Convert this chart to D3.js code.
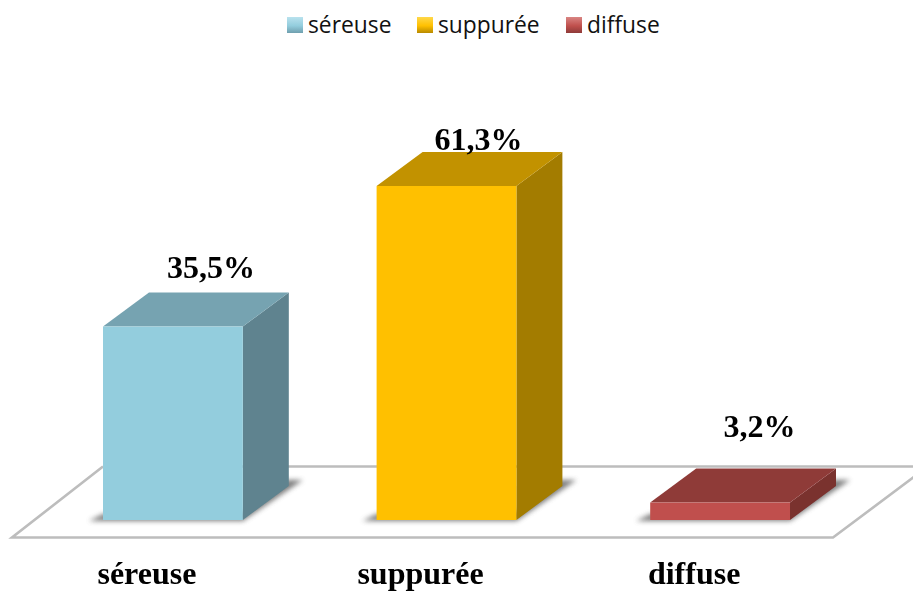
<!DOCTYPE html>
<html><head><meta charset="utf-8">
<script src="https://cdn.jsdelivr.net/npm/d3@7"></script>
<style>html,body{margin:0;padding:0;background:#fff}svg{display:block}</style>
</head><body><svg id="c" width="913" height="594"></svg>
<script>
const categories = ["séreuse", "suppurée", "diffuse"];
const values = [35.5, 61.3, 3.2];
const valueLabels = ["35,5%", "61,3%", "3,2%"];
const frontColors = ["#93cddd", "#ffc000", "#c0504d"];
const topColors = ["#76a3b1", "#c29200", "#8f3b39"];
const sideColors = ["#5f838f", "#a37c00", "#7a302e"];
const legendLight = ["#b9e2ee", "#ffd84a", "#d98583"];
const legendDark = ["#6f9fae", "#b88a00", "#8f3b39"];

const W = 913, H = 594, DX = 46, DY = 34;
const svg = d3.select("#c");
const defs = svg.append("defs");
const mkFilter = (id, sd) => defs.append("filter").attr("id", id).attr("filterUnits", "userSpaceOnUse")
  .attr("x", 0).attr("y", 0).attr("width", W).attr("height", H)
  .append("feGaussianBlur").attr("stdDeviation", sd);
mkFilter("soft", 0.7);
mkFilter("text", 0.35);
mkFilter("shadow", 2.8);
categories.forEach((c, i) => {
  const g = defs.append("linearGradient").attr("id", "lg" + i).attr("x1", 0).attr("y1", 0).attr("x2", 0).attr("y2", 1);
  g.append("stop").attr("offset", "0%").attr("stop-color", legendLight[i]);
  g.append("stop").attr("offset", "55%").attr("stop-color", frontColors[i]);
  g.append("stop").attr("offset", "100%").attr("stop-color", legendDark[i]);
});

const x = d3.scaleBand().domain(categories).range([103, 790]).paddingInner(0.489).paddingOuter(0);
const y = d3.scaleLinear().domain([0, 61.3]).range([520, 186]);
const poly = p => "M" + p.map(q => q.join(",")).join("L") + "Z";

// floor
const floorY0 = 537.5, floorY1 = 466.5;
svg.append("path")
  .attr("d", `M103,${floorY1}L12,${floorY0}H833L928,${floorY1}`)
  .attr("fill", "#fff").attr("stroke", "#bdbdbd").attr("stroke-width", 2.6).attr("filter", "url(#soft)");
svg.append("path")
  .attr("d", `M103,${floorY1}H${W + 10}`)
  .attr("fill", "none").attr("stroke", "#bdbdbd").attr("stroke-width", 2.6).attr("filter", "url(#soft)");

// bars with floor shadows
const marks = svg.append("g");
categories.forEach((c, i) => {
  const x0 = x(c), x1 = x0 + x.bandwidth(), yb = y(0), yt = y(values[i]);
  const g = marks.append("g");
  g.append("path").attr("filter", "url(#shadow)").attr("fill", "#5e5e5e").attr("opacity", 0.8)
    .attr("d", poly([[x0 - 14, yb + 1], [x1, yb + 1], [x1 + 60, yb - 40], [x1 + 40, yb - 40], [x1, yb - 8], [x0, yb - 6]]));
  g.append("path").attr("fill", sideColors[i]).attr("filter", "url(#soft)")
    .attr("d", poly([[x1, yb], [x1 + DX, yb - DY], [x1 + DX, yt - DY], [x1, yt]]));
  g.append("path").attr("fill", topColors[i]).attr("filter", "url(#soft)")
    .attr("d", poly([[x0, yt], [x0 + DX, yt - DY], [x1 + DX, yt - DY], [x1, yt]]));
  g.append("rect").attr("fill", frontColors[i]).attr("filter", "url(#soft)")
    .attr("x", x0).attr("y", yt).attr("width", x.bandwidth()).attr("height", yb - yt);
});

// value labels
const valueNudge = [[38, -49], [32, -36], [39.5, -66]];
svg.append("g").attr("filter", "url(#text)").selectAll("text").data(valueLabels).join("text")
  .attr("x", (d, i) => x(categories[i]) + x.bandwidth() / 2 + valueNudge[i][0])
  .attr("y", (d, i) => y(values[i]) + valueNudge[i][1])
  .attr("text-anchor", "middle")
  .attr("font-family", "'Liberation Serif'").attr("font-weight", "bold").attr("font-size", 32).attr("fill", "#000")
  .text(d => d);

// category axis labels
const xAxis = d3.axisBottom(x).tickSize(0).tickPadding(0);
const ax = svg.append("g").attr("filter", "url(#text)")
  .append("g").attr("transform", "translate(-26,584)").call(xAxis);
ax.select(".domain").remove();
ax.selectAll("text").attr("y", 0).attr("dy", 0)
  .attr("font-family", "'Liberation Serif'").attr("font-weight", "bold").attr("font-size", 32).attr("fill", "#000");

// legend
const legendX = d3.scaleOrdinal().domain(categories).range([287, 417, 566]);
const lg = svg.append("g").selectAll("g").data(categories).join("g")
  .attr("transform", d => `translate(${legendX(d)},17)`);
lg.append("rect").attr("width", 16).attr("height", 16).attr("fill", (d, i) => `url(#lg${i})`);
lg.append("text").attr("x", 21).attr("y", 16).attr("font-family", "'Open Sans'").attr("font-size", 22.8).attr("fill", "#111").text(d => d);
</script></body></html>
